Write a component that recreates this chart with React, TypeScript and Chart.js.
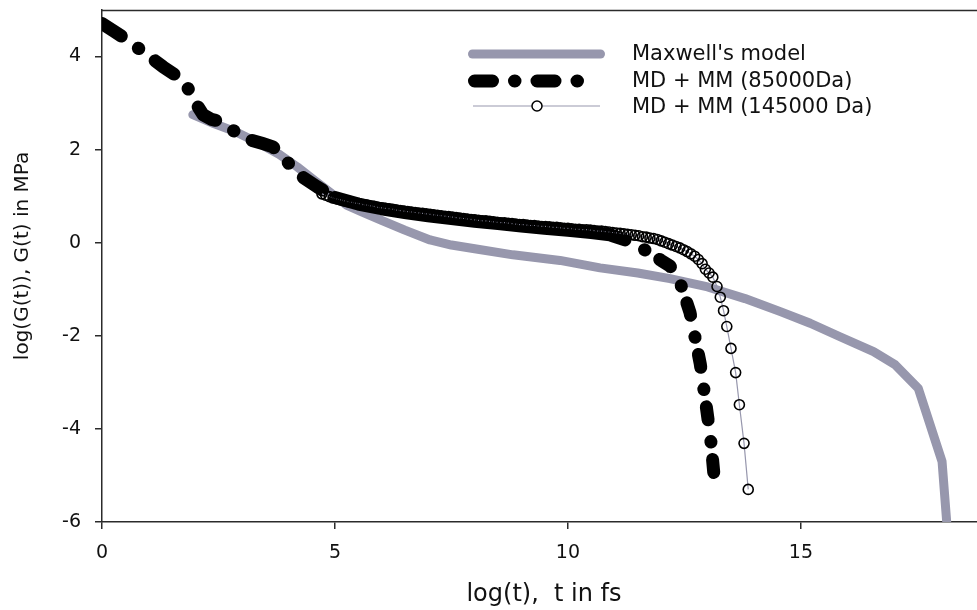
import React, { useEffect, useRef } from 'react';
import { Chart, registerables } from 'chart.js';

Chart.register(...registerables);

const FONT = "'DejaVu Sans', sans-serif";
const X_TICKS = [0, 5, 10, 15];
const Y_TICKS = [-6, -4, -2, 0, 2, 4];
const X_TITLE = 'log(t),  t in fs';
const Y_TITLE = 'log(G(t)), G(t) in MPa';
const LEGEND_LABELS = ["Maxwell's model", 'MD + MM (85000Da)', 'MD + MM (145000 Da)'];

// Maxwell's model [log(t), log(G)]
const maxwell: [number, number][] = [
  [1.95, 2.75], [2.4, 2.56], [2.9, 2.37], [3.4, 2.12], [3.8, 1.9], [4.19, 1.63],
  [4.6, 1.31], [5.0, 1.0], [5.26, 0.8], [5.6, 0.65], [6.0, 0.48], [6.5, 0.27],
  [7.04, 0.06], [7.5, -0.05], [8.0, -0.13], [8.82, -0.26], [9.83, -0.38],
  [10.69, -0.54], [11.5, -0.65], [12.19, -0.77], [13.0, -0.95], [13.8, -1.2],
  [14.56, -1.48], [15.2, -1.73], [15.84, -2.02], [16.56, -2.34], [17.02, -2.62],
  [17.52, -3.13], [18.03, -4.7], [18.13, -6.0],
];

// MD + MM (85000 Da)
const md85000: [number, number][] = [
  [0.0, 4.71], [0.25, 4.55], [0.49, 4.39], [0.9, 4.09], [1.31, 3.78], [1.55, 3.62],
  [1.78, 3.46], [1.94, 3.11], [2.17, 2.75], [2.35, 2.65], [2.53, 2.61], [2.78, 2.43],
  [3.18, 2.21], [3.45, 2.13], [3.67, 2.06], [3.96, 1.75], [4.32, 1.4], [4.62, 1.2],
  [5.0, 0.97], [5.5, 0.83], [6.0, 0.73], [6.5, 0.65], [7.0, 0.58], [7.5, 0.52],
  [8.0, 0.46], [8.5, 0.41], [9.0, 0.36], [9.5, 0.31], [10.0, 0.27], [10.5, 0.22],
  [10.9, 0.17], [11.4, 0.0], [11.76, -0.22], [12.0, -0.38], [12.19, -0.5],
  [12.3, -0.64], [12.43, -0.92], [12.62, -1.5], [12.73, -2.04], [12.84, -2.6],
  [12.92, -3.16], [13.0, -3.74], [13.07, -4.28], [13.14, -5.05],
];
// dense-sampling range of the 85000 Da run (drawn as a continuous band)
const md85000Dense = [5.0, 10.9];

// MD + MM (145000 Da)
const md145000: [number, number][] = [
  [4.72, 1.05], [4.8, 1.02], [4.88, 0.99], [4.96, 0.96], [5.04, 0.94], [5.12, 0.92],
  [5.2, 0.9], [5.28, 0.88], [5.36, 0.87], [5.44, 0.85], [5.52, 0.84], [5.6, 0.82],
  [5.68, 0.81], [5.76, 0.79], [5.84, 0.78], [5.92, 0.76], [6.0, 0.75], [6.08, 0.74],
  [6.16, 0.73], [6.24, 0.72], [6.32, 0.7], [6.4, 0.69], [6.48, 0.68], [6.56, 0.67],
  [6.64, 0.66], [6.72, 0.65], [6.8, 0.64], [6.88, 0.63], [6.96, 0.62], [7.04, 0.61],
  [7.12, 0.6], [7.2, 0.59], [7.28, 0.58], [7.36, 0.57], [7.44, 0.56], [7.52, 0.55],
  [7.6, 0.54], [7.68, 0.53], [7.76, 0.52], [7.84, 0.51], [7.92, 0.5], [8.0, 0.49],
  [8.08, 0.48], [8.16, 0.47], [8.24, 0.47], [8.32, 0.46], [8.4, 0.45], [8.48, 0.44],
  [8.56, 0.43], [8.64, 0.43], [8.72, 0.42], [8.8, 0.41], [8.88, 0.4], [8.96, 0.39],
  [9.04, 0.39], [9.12, 0.38], [9.2, 0.37], [9.28, 0.37], [9.36, 0.36], [9.44, 0.35],
  [9.52, 0.35], [9.6, 0.34], [9.68, 0.33], [9.76, 0.33], [9.84, 0.32], [9.92, 0.31],
  [10.0, 0.31], [10.08, 0.3], [10.16, 0.29], [10.24, 0.29], [10.32, 0.28], [10.4, 0.28],
  [10.48, 0.27], [10.56, 0.26], [10.64, 0.25], [10.72, 0.25], [10.8, 0.24], [10.88, 0.23],
  [10.96, 0.22], [11.04, 0.21], [11.12, 0.2], [11.2, 0.19], [11.28, 0.18], [11.36, 0.17],
  [11.44, 0.16], [11.52, 0.15], [11.6, 0.13], [11.68, 0.12], [11.76, 0.1], [11.84, 0.09],
  [11.92, 0.07], [12.0, 0.04], [12.08, 0.01], [12.16, -0.02], [12.24, -0.05], [12.32, -0.08],
  [12.4, -0.11], [12.48, -0.15], [12.56, -0.19], [12.64, -0.24], [12.72, -0.29], [12.8, -0.36],
  [12.88, -0.45], [12.95, -0.57], [13.03, -0.65], [13.11, -0.74], [13.2, -0.94], [13.27, -1.17],
  [13.34, -1.46], [13.41, -1.8], [13.5, -2.27], [13.6, -2.79], [13.68, -3.48], [13.78, -4.31],
  [13.87, -5.3],
];

const GRAY = '#9797ad';
const AXIS = '#2b2b2b';
const TEXT = '#111111';
const DASH_LEGEND = [18, 22, 0.5, 22];
const DASH_EARLY = [23, 21, 0.5, 20.5];
const DASH_LATE = [13, 22, 0.5, 17.5];
const DASH_LATE_OFFSET = 50;

const toXY = (a: [number, number][]) => a.map(([x, y]) => ({ x, y }));

const zeroPad = (s: any) => {
  s.paddingTop = 0;
  s.paddingBottom = 0;
  s.paddingLeft = 0;
  s.paddingRight = 0;
};

export default function App() {
  const ref = useRef<HTMLCanvasElement>(null);

  useEffect(() => {
    if (!ref.current) return;

    const overlay = {
      id: 'overlay',
      afterDraw(chart: any) {
        const { ctx, chartArea: a } = chart;
        ctx.save();
        // top frame line
        ctx.strokeStyle = AXIS;
        ctx.lineWidth = 1.5;
        ctx.beginPath();
        ctx.moveTo(a.left, a.top + 0.5);
        ctx.lineTo(a.right, a.top + 0.5);
        ctx.stroke();

        // axis titles
        ctx.fillStyle = TEXT;
        ctx.textAlign = 'center';
        ctx.textBaseline = 'alphabetic';
        ctx.font = `24px ${FONT}`;
        ctx.fillText(X_TITLE, 544, 601);
        ctx.save();
        ctx.translate(28, 256);
        ctx.rotate(-Math.PI / 2);
        ctx.font = `20px ${FONT}`;
        ctx.fillText(Y_TITLE, 0, 0);
        ctx.restore();

        // legend
        ctx.lineCap = 'round';
        ctx.strokeStyle = GRAY;
        ctx.lineWidth = 9;
        ctx.beginPath();
        ctx.moveTo(472.5, 54);
        ctx.lineTo(600.5, 54);
        ctx.stroke();

        ctx.strokeStyle = '#000';
        ctx.lineWidth = 13;
        ctx.setLineDash(DASH_LEGEND);
        ctx.beginPath();
        ctx.moveTo(474.5, 81);
        ctx.lineTo(592, 81);
        ctx.stroke();
        ctx.setLineDash([]);

        ctx.lineCap = 'butt';
        ctx.strokeStyle = GRAY;
        ctx.lineWidth = 1.2;
        ctx.beginPath();
        ctx.moveTo(473, 106);
        ctx.lineTo(600, 106);
        ctx.stroke();
        ctx.strokeStyle = '#000';
        ctx.lineWidth = 1.5;
        ctx.fillStyle = '#fff';
        ctx.beginPath();
        ctx.arc(537, 106, 5, 0, Math.PI * 2);
        ctx.fill();
        ctx.stroke();

        ctx.fillStyle = TEXT;
        ctx.textAlign = 'left';
        ctx.textBaseline = 'middle';
        ctx.font = `21px ${FONT}`;
        ctx.fillText(LEGEND_LABELS[0], 632, 55);
        ctx.fillText(LEGEND_LABELS[1], 632, 81.5);
        ctx.fillText(LEGEND_LABELS[2], 632, 108);
        ctx.restore();
      },
    };

    const EPS = 1e-9;
    const inDense = (c: any) =>
      c.p0.parsed.x >= md85000Dense[0] - EPS && c.p1.parsed.x <= md85000Dense[1] + EPS;
    const isLate = (c: any) => c.p0.parsed.x >= md85000Dense[1] - EPS;

    const chart = new Chart(ref.current, {
      type: 'scatter',
      data: {
        datasets: [
          {
            label: LEGEND_LABELS[0],
            data: toXY(maxwell),
            showLine: true,
            borderColor: GRAY,
            backgroundColor: GRAY,
            borderWidth: 9,
            borderCapStyle: 'round',
            borderJoinStyle: 'round',
            pointRadius: 0,
            tension: 0,
            order: 3,
          },
          {
            label: LEGEND_LABELS[1],
            data: toXY(md85000),
            showLine: true,
            borderColor: '#000',
            backgroundColor: '#000',
            borderWidth: 13,
            borderDash: DASH_EARLY,
            borderCapStyle: 'round',
            borderJoinStyle: 'round',
            pointRadius: 0,
            tension: 0,
            order: 2,
            segment: {
              borderDash: (c: any) => (inDense(c) ? [] : isLate(c) ? DASH_LATE : DASH_EARLY),
              borderDashOffset: (c: any) => (isLate(c) ? DASH_LATE_OFFSET : 0),
            },
          },
          {
            label: LEGEND_LABELS[2],
            data: toXY(md145000),
            showLine: true,
            borderColor: GRAY,
            borderWidth: 1.2,
            pointRadius: 5,
            pointBorderColor: '#000',
            pointBackgroundColor: 'rgba(255,255,255,0)',
            pointBorderWidth: 1.6,
            tension: 0,
            order: 1,
          },
        ],
      } as any,
      options: {
        responsive: false,
        animation: false,
        events: [],
        layout: { autoPadding: false, padding: { top: 10, left: 0, right: 0, bottom: 0 } },
        plugins: { legend: { display: false }, tooltip: { enabled: false } },
        scales: {
          x: {
            type: 'linear',
            min: 0,
            max: 18.78,
            afterBuildTicks: (s: any) => {
              s.ticks = X_TICKS.map((value) => ({ value }));
            },
            afterFit: (s: any) => {
              s.height = 88;
              zeroPad(s);
            },
            grid: { drawOnChartArea: false, drawTicks: true, tickLength: 7, color: AXIS, lineWidth: 1.5 },
            border: { display: true, color: AXIS, width: 1.5 },
            ticks: { font: { family: FONT, size: 19 }, color: TEXT, padding: 13, maxRotation: 0, autoSkip: false },
          },
          y: {
            type: 'linear',
            min: -6,
            max: 5,
            afterBuildTicks: (s: any) => {
              s.ticks = Y_TICKS.map((value) => ({ value }));
            },
            afterFit: (s: any) => {
              s.width = 102;
              zeroPad(s);
            },
            grid: { drawOnChartArea: false, drawTicks: true, tickLength: 7, color: AXIS, lineWidth: 1.5 },
            border: { display: true, color: AXIS, width: 1.5 },
            ticks: { font: { family: FONT, size: 19 }, color: TEXT, padding: 14, autoSkip: false },
          },
        },
      } as any,
      plugins: [overlay],
    });

    return () => chart.destroy();
  }, []);

  return (
    <div style={{ position: 'fixed', left: 0, top: 0, width: 977, height: 610, background: '#fff' }}>
      <canvas ref={ref} width={977} height={610} style={{ display: 'block' }} />
    </div>
  );
}
